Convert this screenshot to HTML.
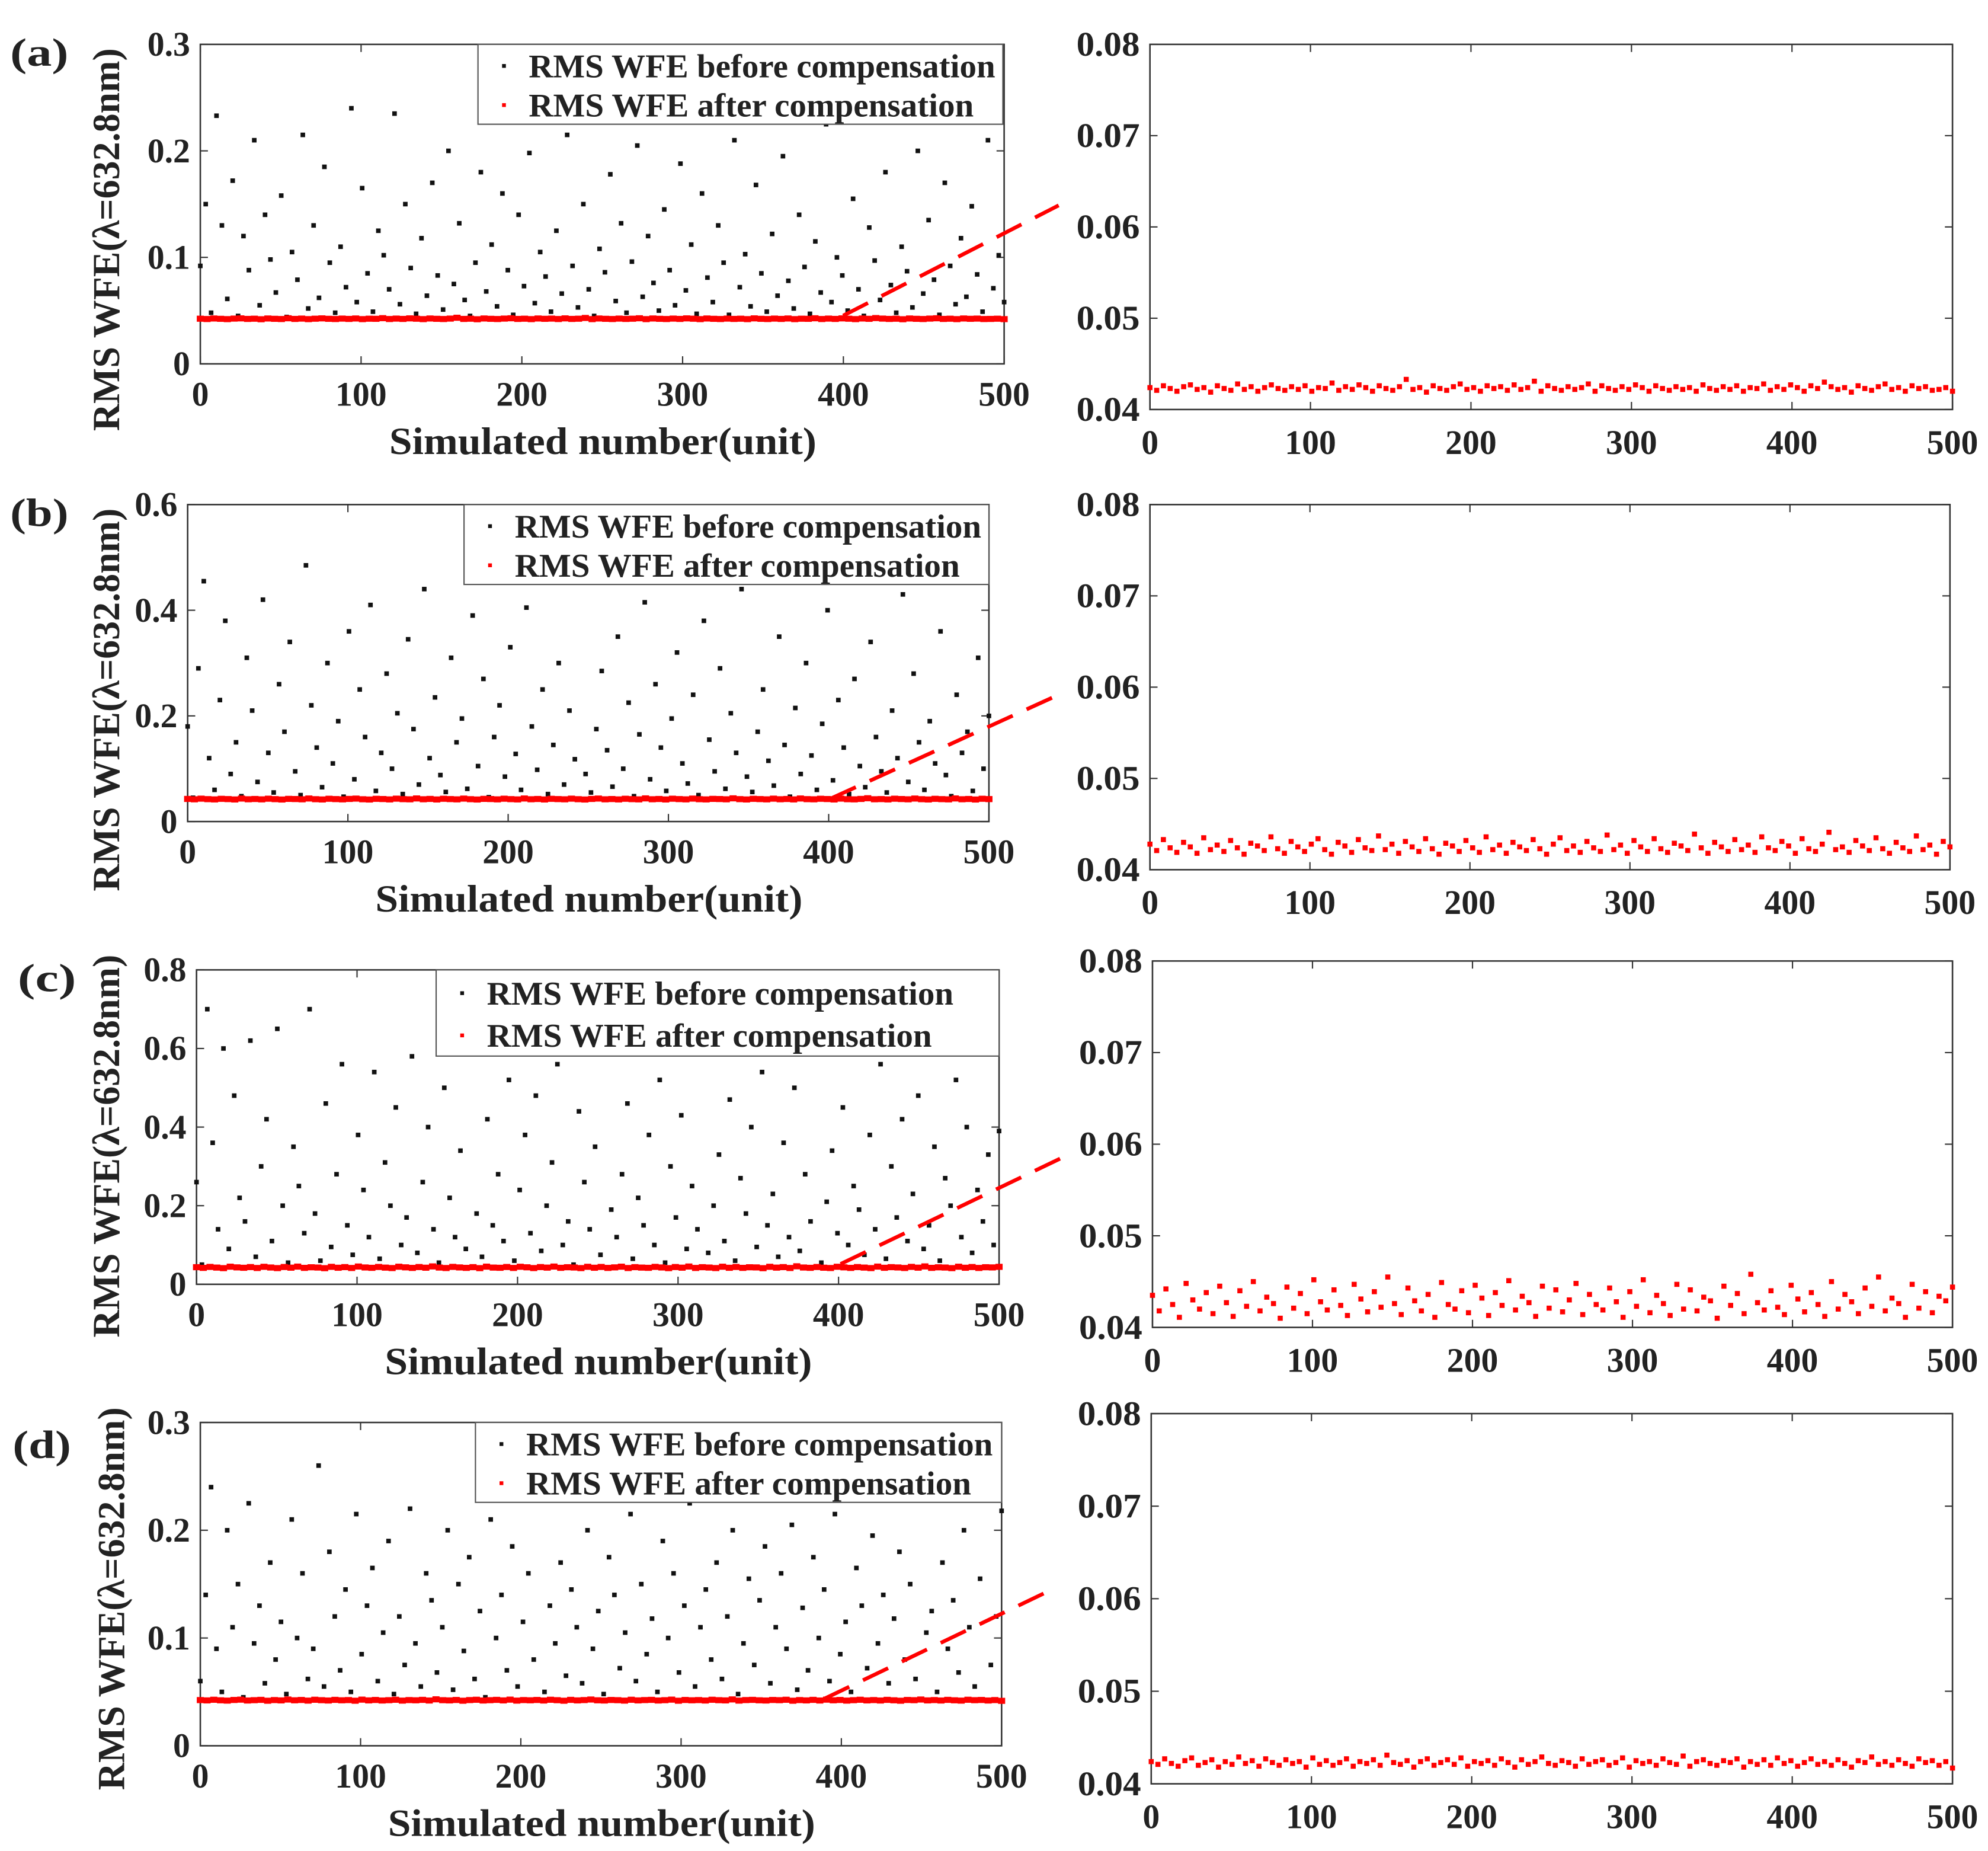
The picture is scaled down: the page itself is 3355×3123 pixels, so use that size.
<!DOCTYPE html>
<html><head><meta charset="utf-8"><style>
html,body{margin:0;padding:0;background:#fff}
svg{display:block}
text{font-family:"Liberation Serif",serif;font-weight:bold;fill:#222}
</style></head><body>
<svg id="fig" xmlns="http://www.w3.org/2000/svg" width="3355" height="3123" viewBox="0 0 1568 1460" preserveAspectRatio="none"></svg>
<script>
// ---- data (before: thousandths of wave; after: 1e-4 wave) ----
const xTicks = [0,100,200,300,400,500];
const rightYTicks = ["0.04","0.05","0.06","0.07","0.08"];
const aYTicks = ["0","0.1","0.2","0.3"];
const bYTicks = ["0","0.2","0.4","0.6"];
const cYTicks = ["0","0.2","0.4","0.6","0.8"];
const dYTicks = ["0","0.1","0.2","0.3"];
const aBefore = [92,150,48,233,130,61,172,45,120,88,210,55,140,98,67,158,44,105,79,215,52,130,62,185,95,48,110,72,240,58,165,85,49,125,102,70,235,56,150,90,47,118,64,170,83,51,200,75,132,60,45,95,180,68,112,54,160,88,46,140,73,198,57,105,82,49,125,66,215,92,53,150,70,45,108,86,178,59,132,48,96,205,63,120,76,50,145,88,55,188,69,112,47,160,81,58,130,95,46,210,72,103,54,168,85,49,122,64,195,78,52,140,91,47,115,67,225,58,100,83,50,155,70,45,128,97,60,180,74,48,110,87,53,200,66,135,79,46,170,92,56,118,63,148,84,49,210,71,102,58];
const bBefore = [180,45,290,455,120,60,230,380,90,150,48,310,210,75,420,130,55,260,170,340,95,50,485,220,140,65,300,110,190,47,360,80,250,160,410,58,130,280,100,205,52,345,175,70,440,120,235,88,56,310,150,195,62,390,105,270,46,160,220,85,330,128,60,405,180,98,250,52,145,300,70,210,118,460,90,55,175,285,135,66,350,100,225,48,165,415,80,260,140,58,195,320,110,72,240,50,380,155,95,290,62,205,130,440,85,56,170,250,115,68,350,145,47,215,90,300,125,60,185,400,78,230,140,52,270,105,65,340,160,95,55,210,120,430,75,280,150,60,190,110,360,88,48,240,130,170,58,310,100,200];
const cBefore = [260,50,700,360,140,600,90,480,220,160,620,70,300,420,110,650,200,55,350,250,130,700,180,60,460,95,280,560,150,75,380,240,120,540,65,310,200,450,100,170,580,80,260,400,140,55,500,220,120,340,90,600,180,70,420,150,280,110,520,60,240,380,130,480,85,200,310,560,100,160,50,440,260,140,350,75,590,190,120,280,460,65,220,150,380,100,520,55,300,170,430,90,250,140,600,80,200,330,110,470,60,270,180,400,95,540,150,230,70,360,120,500,85,280,160,610,55,210,340,130,450,100,250,190,75,380,140,560,65,300,170,420,110,230,480,90,150,350,60,270,200,520,120,400,80,240,160,330,100,390];
const dBefore = [60,140,240,90,50,200,110,150,45,225,95,130,58,170,80,115,48,210,100,160,62,90,260,55,180,120,70,145,50,215,85,130,165,60,105,190,48,120,75,220,95,55,160,135,68,110,200,52,150,88,175,62,125,45,210,100,140,70,185,55,115,160,80,228,50,130,95,170,65,145,110,58,200,90,125,48,175,140,72,105,215,60,150,85,118,50,190,100,160,68,130,225,55,110,145,80,170,62,120,200,48,95,155,75,135,185,58,110,160,90,205,52,128,70,175,100,145,60,215,85,115,50,165,130,72,195,95,140,58,118,180,80,150,62,228,105,125,50,170,90,135,68,200,110,55,155,230,75,120,218];
const aAfter = [424,421,426,423,420,425,427,422,424,419,426,423,421,428,422,425,420,424,427,423,421,425,422,426,420,424,423,429,421,425,422,427,424,420,426,423,421,425,433,422,424,419,426,423,421,425,428,422,424,420,426,423,425,421,427,422,424,431,420,426,423,421,425,422,424,428,420,426,423,421,425,422,427,424,420,426,423,421,425,422,424,420,427,423,421,425,422,426,420,424,423,428,421,425,422,427,424,420,426,423,430,425,422,424,419,426,423,421,425,428,422,424,420,426,423,425,421,422,424,420];
const bAfter = [428,421,433,424,419,430,425,418,435,422,427,420,432,424,417,429,426,421,436,423,418,431,425,420,428,434,422,417,430,426,419,433,424,421,437,422,428,418,431,425,420,434,423,417,429,426,420,432,424,419,436,422,427,418,430,425,421,433,423,417,428,435,421,426,419,431,424,420,438,422,427,418,432,425,420,434,423,419,429,426,421,439,424,418,430,425,420,433,422,427,419,436,424,421,431,426,418,434,423,420,428,441,422,425,419,432,426,421,435,423,418,430,424,420,437,422,427,417,431,425];
const cAfter = [435,418,442,425,411,448,430,420,438,415,445,427,412,440,423,450,418,433,426,410,444,421,437,415,452,428,419,441,424,413,447,431,417,439,422,455,426,414,443,429,418,436,411,449,425,420,440,416,446,432,413,438,424,451,419,434,427,412,445,421,441,417,430,448,414,436,425,419,443,428,411,439,423,452,416,435,426,413,447,420,441,418,433,429,410,445,424,437,415,458,427,419,440,422,414,446,431,417,438,425,412,450,420,436,428,415,443,423,455,418,432,426,411,447,421,439,416,434,429,444];
const dAfter = [424,421,427,422,419,425,428,420,423,426,418,424,421,429,422,425,419,427,423,420,426,422,424,418,428,421,425,420,423,427,419,424,422,426,420,431,423,421,425,418,424,427,420,423,426,421,428,419,424,422,425,420,427,423,418,426,421,424,429,422,420,425,423,419,427,421,424,426,420,423,428,418,425,422,424,420,427,423,421,430,419,424,426,422,420,425,423,427,418,424,421,426,420,428,422,425,419,423,427,421,424,420,426,422,418,425,423,429,421,424,420,426,422,419,427,423,425,420,424,417];

// ---- layout (display units) ----
const panels = [
 {id:'a', before:aBefore, after:aAfter, yt:aYTicks, ymax:0.3,
  L:{x0:158,x1:792,y0:35,y1:287}, R:{x0:907,x1:1540,y0:35,y1:323},
  lab:[8,40], leg:{x:377,y:35,w:414,h:63}, dash:[665,249,835,162], ylabX:88, yc:190},
 {id:'b', before:bBefore, after:bAfter, yt:bYTicks, ymax:0.6,
  L:{x0:148,x1:780,y0:398,y1:648}, R:{x0:907,x1:1538,y0:398,y1:686},
  lab:[8,403], leg:{x:366,y:398,w:414,h:63}, dash:[655,630,835,548], ylabX:88, yc:553},
 {id:'c', before:cBefore, after:cAfter, yt:cYTicks, ymax:0.8,
  L:{x0:155,x1:788,y0:765,y1:1013}, R:{x0:909,x1:1540,y0:758,y1:1047},
  lab:[14,770], leg:{x:344,y:765,w:444,h:68}, dash:[663,997,838,913], ylabX:88, yc:905},
 {id:'d', before:dBefore, after:dAfter, yt:dYTicks, ymax:0.3,
  L:{x0:158,x1:790,y0:1122,y1:1377}, R:{x0:908,x1:1540,y0:1115,y1:1407},
  lab:[10,1138], leg:{x:375,y:1122,w:415,h:63}, dash:[650,1340,825,1256], ylabX:92, yc:1262}
];
const svg = document.getElementById('fig');
const NS='http://www.w3.org/2000/svg';
function mk(tag, attrs, parent){const e=document.createElementNS(NS,tag);for(const k in attrs)e.setAttribute(k,attrs[k]);(parent||svg).appendChild(e);return e;}
function txt(s,attrs,parent){const e=mk('text',attrs,parent);e.textContent=s;return e;}

panels.forEach(p=>{
  const g=mk('g',{});
  
  
  const L=p.L,R=p.R;
  const lx=v=>L.x0+(L.x1-L.x0)*v/500, ly=v=>L.y1-(L.y1-L.y0)*v/p.ymax;
  const rx=v=>R.x0+(R.x1-R.x0)*v/500, ry=v=>R.y1-(R.y1-R.y0)*(v-0.04)/0.04;
  const pl=txt('('+p.id+')',{x:p.lab[0],y:p.lab[1]+12,'font-size':31,textLength:46,lengthAdjust:'spacingAndGlyphs'},g);
  
  
  [L,R].forEach((B,k)=>{
    const r=mk('rect',{x:B.x0,y:B.y0,width:B.x1-B.x0,height:B.y1-B.y0,fill:'none',stroke:'#333','stroke-width':1.2},g);
    
    
  });
  xTicks.forEach(t=>{
    const x=lx(t);
    mk('line',{x1:x,x2:x,y1:L.y1,y2:L.y1-6,stroke:'#333'},g);
    mk('line',{x1:x,x2:x,y1:L.y0,y2:L.y0+6,stroke:'#333'},g);
    const tl=txt(String(t),{x:x,y:L.y1+33,'font-size':27,'text-anchor':'middle'},g);
    
    
    const xr=rx(t);
    mk('line',{x1:xr,x2:xr,y1:R.y1,y2:R.y1-6,stroke:'#333'},g);
    mk('line',{x1:xr,x2:xr,y1:R.y0,y2:R.y0+6,stroke:'#333'},g);
    const tr=txt(String(t),{x:xr,y:R.y1+35,'font-size':27,'text-anchor':'middle'},g);
    
    
  });
  p.yt.forEach(s=>{
    const y=ly(parseFloat(s));
    mk('line',{x1:L.x0,x2:L.x0+6,y1:y,y2:y,stroke:'#333'},g);
    mk('line',{x1:L.x1,x2:L.x1-6,y1:y,y2:y,stroke:'#333'},g);
    const tl=txt(s,{x:L.x0-8,y:y+9,'font-size':27,'text-anchor':'end'},g);
    
    
  });
  rightYTicks.forEach(s=>{
    const y=ry(parseFloat(s));
    mk('line',{x1:R.x0,x2:R.x0+6,y1:y,y2:y,stroke:'#333'},g);
    mk('line',{x1:R.x1,x2:R.x1-6,y1:y,y2:y,stroke:'#333'},g);
    const tl=txt(s,{x:R.x0-8,y:y+9,'font-size':27,'text-anchor':'end',textLength:50,lengthAdjust:'spacingAndGlyphs'},g);
    
    
  });
  const xt=txt('Simulated number(unit)',{x:(L.x0+L.x1)/2-(L.x0+L.x1)/2+ (L.x0+L.x1)/2 - 168,y:L.y1+71,'font-size':30,textLength:337,lengthAdjust:'spacingAndGlyphs'},g);
  
  
  const yt=txt('RMS WFE(λ=632.8nm)',{x:-150,y:0,'font-size':30,textLength:302,lengthAdjust:'spacingAndGlyphs',transform:'translate('+(p.ylabX+6)+','+p.yc+') rotate(-90)'},g);
  
  
  const nb=p.before.length;
  p.before.forEach((v,i)=>{
    const c=mk('rect',{x:lx(i*500/(nb-1))-1.8,y:ly(v/1000)-1.8,width:3.6,height:3.6,fill:'#111'},g);
    
    
  });
  const na=p.after.length;
  p.after.forEach((v,i)=>{
    const t=i*500/(na-1), val=v/10000;
    const c=mk('rect',{x:lx(t)-2.8,y:ly(val)-2.4,width:5.6,height:4.8,fill:'#f00'},g);
    
    
    const c2=mk('rect',{x:rx(t)-2,y:ry(val)-2,width:4,height:4,fill:'#f00'},g);
    
    
  });
  const d=p.dash;
  const dl=mk('line',{x1:d[0],y1:d[1],x2:d[2],y2:d[3],stroke:'#f00','stroke-width':3,'stroke-dasharray':'22,12'},g);
  
  
  const lg=p.leg;
  const lr=mk('rect',{x:lg.x,y:lg.y,width:lg.w,height:lg.h,fill:'#fff',stroke:'#555','stroke-width':1},g);
  
  
  mk('rect',{x:lg.x+19,y:lg.y+lg.h*0.27-1.5,width:3,height:3,fill:'#111'},g);
  mk('rect',{x:lg.x+19,y:lg.y+lg.h*0.76-1.5,width:3,height:3,fill:'#f00'},g);
  const e1=txt('RMS WFE before compensation',{x:lg.x+40,y:lg.y+lg.h*0.27+9,'font-size':26,textLength:368,lengthAdjust:'spacingAndGlyphs'},g);
  
  
  const e2=txt('RMS WFE after compensation',{x:lg.x+40,y:lg.y+lg.h*0.76+9,'font-size':26,textLength:351,lengthAdjust:'spacingAndGlyphs'},g);
  
  
});
</script>
</body></html>
